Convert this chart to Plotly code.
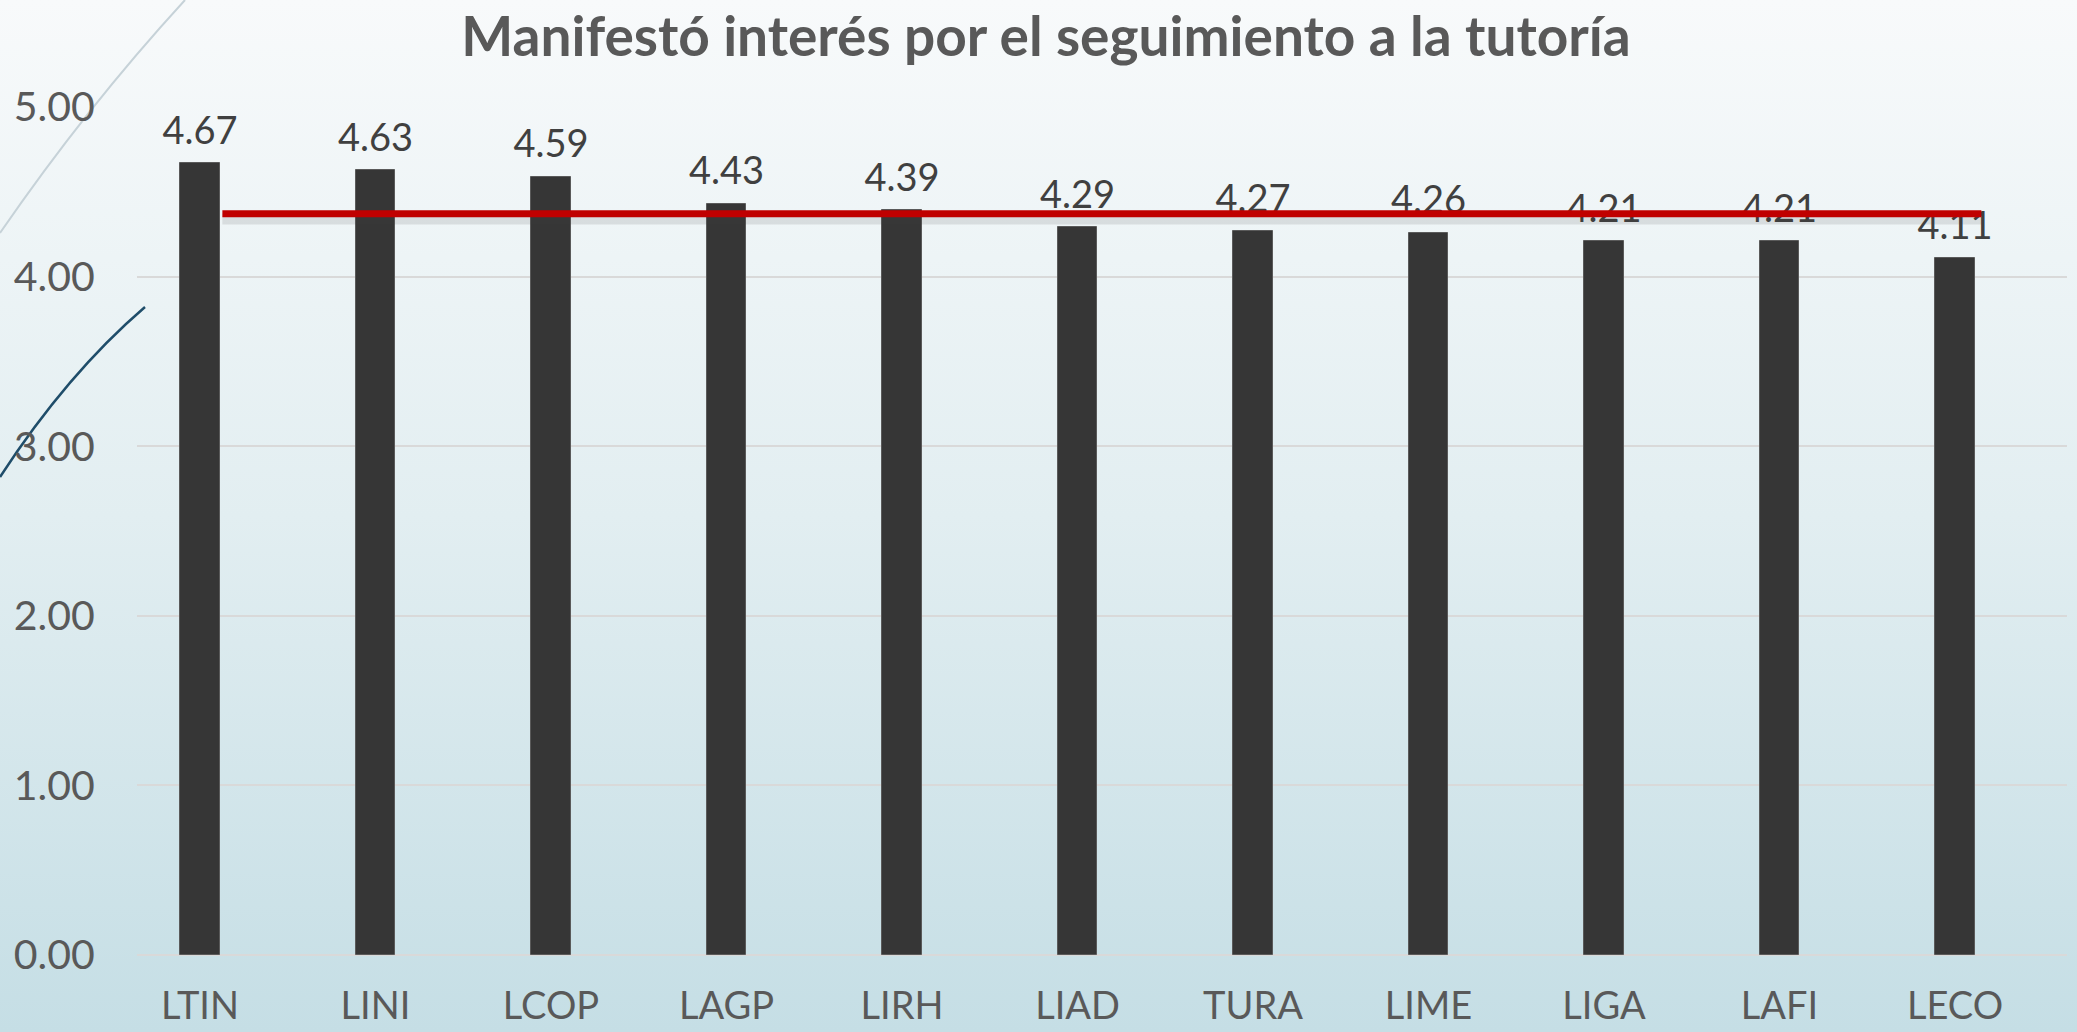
import base64
import plotly.graph_objects as go

# ---- data ----
categories = ["LTIN", "LINI", "LCOP", "LAGP", "LIRH", "LIAD", "TURA", "LIME", "LIGA", "LAFI", "LECO"]
values = [4.67, 4.63, 4.59, 4.43, 4.39, 4.29, 4.27, 4.26, 4.21, 4.21, 4.11]
y_ticks = [0, 1, 2, 3, 4, 5]
title_text = "Manifestó interés por el seguimiento a la tutoría"
average = round(sum(values) / len(values), 2)

# ---- layout constants ----
W, H = 2077, 1032
ML, MR, MT, MB = 137, 10, 107, 77
PW, PH = W - ML - MR, H - MT - MB
BAR_W = 0.225
FONT = "Lato"
TXT = "#595959"

# background (gradient + decorative curves), as an inline SVG
svg = f"""<svg xmlns='http://www.w3.org/2000/svg' width='{W}' height='{H}' viewBox='0 0 {W} {H}' preserveAspectRatio='none'>
<defs><linearGradient id='g' x1='0' y1='0' x2='0' y2='1'>
<stop offset='0' stop-color='#f8fafb'/><stop offset='0.5' stop-color='#e2eef1'/><stop offset='1' stop-color='#c5dee5'/></linearGradient></defs>
<rect width='{W}' height='{H}' fill='url(#g)'/>
<path d='M185,0 Q86,108 0,233' stroke='#c6d2d8' stroke-width='2' fill='none'/>
<path d='M145,307 Q67,374 0,477' stroke='#1f4d6a' stroke-width='2.5' fill='none'/>
</svg>"""
bg_src = "data:image/svg+xml;base64," + base64.b64encode(svg.encode()).decode()

idx = list(range(len(categories)))

fig = go.Figure()
fig.add_trace(go.Bar(
    x=idx, y=values, width=BAR_W,
    marker=dict(color="#363636", line=dict(color="#5a5a5a", width=1)),
    hoverinfo="skip", showlegend=False,
))
# value labels
fig.add_trace(go.Scatter(
    x=idx, y=values, mode="markers+text",
    text=[f"{v:.2f}" for v in values], textposition="top center",
    marker=dict(size=14, color="rgba(0,0,0,0)"),
    textfont=dict(family=FONT, size=38, color="#404040"),
    hoverinfo="skip", showlegend=False, cliponaxis=False,
))
# average line with soft shadow
line_x = [0 + BAR_W / 2 + 0.015, len(categories) - 1 + 0.15]
fig.add_trace(go.Scatter(
    x=line_x, y=[average - 0.03] * 2, mode="lines",
    line=dict(color="rgba(60,60,60,0.13)", width=11),
    hoverinfo="skip", showlegend=False,
))
fig.add_trace(go.Scatter(
    x=line_x, y=[average] * 2, mode="lines",
    line=dict(color="#c00000", width=7),
    hoverinfo="skip", showlegend=False,
))

fig.update_layout(
    width=W, height=H,
    margin=dict(l=ML, r=MR, t=MT, b=MB, pad=0, autoexpand=False),
    paper_bgcolor="rgba(0,0,0,0)", plot_bgcolor="rgba(0,0,0,0)",
    images=[dict(source=bg_src, xref="paper", yref="paper",
                 x=-ML / PW, y=1 + MT / PH, sizex=W / PW, sizey=H / PH,
                 xanchor="left", yanchor="top", sizing="stretch", layer="below")],
    title=dict(text=f"<b>{title_text}</b>", x=1046 / W, xref="container", xanchor="center",
               y=1 - 37 / H, yref="container", yanchor="middle",
               font=dict(family=FONT, size=55, color=TXT)),
    xaxis=dict(range=[-0.359, 10.638], tickvals=idx, ticktext=categories,
               showgrid=False, zeroline=False, showline=False, automargin=False,
               ticks="outside", ticklen=0, ticklabelstandoff=17,
               tickfont=dict(family=FONT, size=38, color=TXT)),
    yaxis=dict(range=[0, 5], tickvals=y_ticks, tickformat=".2f", automargin=False,
               showgrid=True, gridcolor="#d9d9d9", gridwidth=1.5,
               zeroline=True, zerolinecolor="#d9d9d9", zerolinewidth=1.5, showline=False,
               ticks="outside", ticklen=0, ticklabelstandoff=33,
               tickfont=dict(family=FONT, size=41, color=TXT)),
    bargap=0,
)

fig.write_html(
    "out.html",
    config={"displayModeBar": False},
    post_script="document.body.style.margin='0';document.body.style.overflow='hidden';",
)
